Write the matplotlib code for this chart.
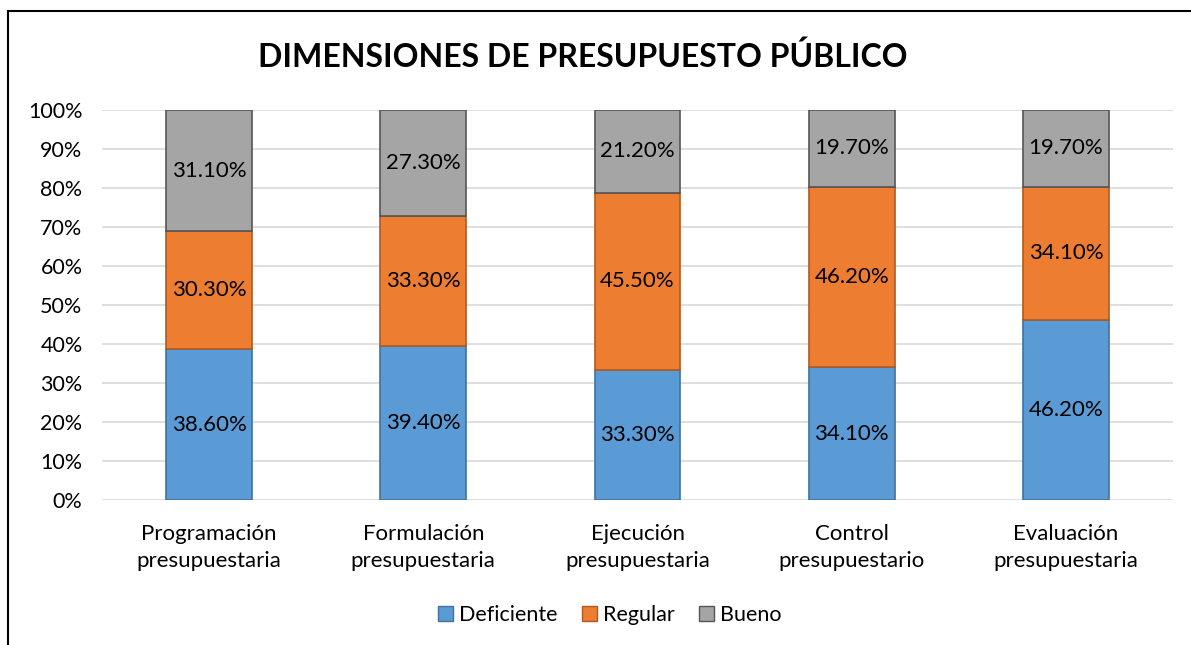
import matplotlib.pyplot as plt
import matplotlib.patches as mpatches
import numpy as np

plt.rcParams['font.family'] = ['Lato', 'DejaVu Sans']

categorias = ["Programación\npresupuestaria", "Formulación\npresupuestaria",
              "Ejecución\npresupuestaria", "Control\npresupuestario",
              "Evaluación\npresupuestaria"]
deficiente = [38.6, 39.4, 33.3, 34.1, 46.2]
regular = [30.3, 33.3, 45.5, 46.2, 34.1]
bueno = [31.1, 27.3, 21.2, 19.7, 19.7]

series = [("Deficiente", deficiente, '#5B9BD5', '#41719C'),
          ("Regular", regular, '#ED7D31', '#AE5A21'),
          ("Bueno", bueno, '#A5A5A5', '#555555')]

fig = plt.figure(figsize=(11.91, 6.45), dpi=100)
ax = fig.add_axes([0.0856, 0.2248, 0.8994, 0.6047])

x = np.arange(len(categorias))
base = np.zeros(len(categorias))
handles = []
for nombre, vals, color, borde in series:
    vals = np.array(vals)
    ax.bar(x, vals, 0.4, bottom=base, color=color, edgecolor=borde, linewidth=1.2, zorder=3)
    for xi, b, v in zip(x, base, vals):
        ax.text(xi, b + v / 2, f"{v:.2f}%", ha='center', va='center', fontsize=16, color='black', zorder=4)
    base = base + vals
    handles.append(mpatches.Patch(facecolor=color, edgecolor=borde, label=nombre))

ax.set_xlim(-0.5, len(categorias) - 0.5)
ax.set_ylim(0, 100)
ax.set_yticks(np.arange(0, 101, 10))
ax.set_yticklabels([f"{v}%" for v in range(0, 101, 10)], fontsize=15.5)
ax.set_xticks(x)
ax.set_xticklabels(categorias, fontsize=16, linespacing=1.45)
ax.tick_params(axis='y', length=0, pad=14)
ax.tick_params(axis='x', length=0, pad=17)
ax.yaxis.grid(True, color='#D9D9D9', linewidth=1.2, zorder=0)
for s in ax.spines.values():
    s.set_visible(False)

fig.text(0.489, 0.912, "DIMENSIONES DE PRESUPUESTO PÚBLICO", ha='center', va='center',
         fontsize=23, fontweight='bold')

fig.legend(handles=handles, loc='center', bbox_to_anchor=(0.512, 0.047), ncol=3,
           frameon=False, fontsize=15.5, handlelength=0.7, handleheight=0.7,
           handletextpad=0.3, columnspacing=1.1)

# borde del gráfico
fig.add_artist(plt.Line2D([0.0067, 0.0067], [0, 0.983], color='black', linewidth=1.5, transform=fig.transFigure))
fig.add_artist(plt.Line2D([0.0067, 1], [0.983, 0.983], color='black', linewidth=1.5, transform=fig.transFigure))

fig.savefig("out.png", dpi=100)
